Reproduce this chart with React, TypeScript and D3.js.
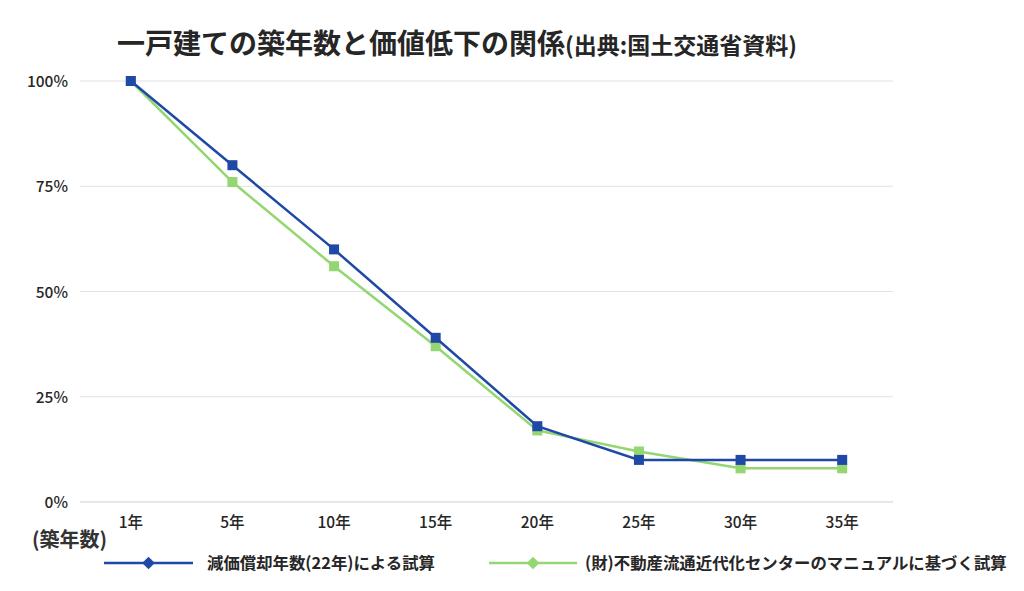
import React, { useEffect, useRef } from "react";
import * as d3 from "d3";

const categories = ["1年", "5年", "10年", "15年", "20年", "25年", "30年", "35年"];
const seriesA = [100, 80, 60, 39, 18, 10, 10, 10];
const seriesB = [100, 76, 56, 37, 17, 12, 8, 8];
const yTicks = [0, 25, 50, 75, 100];
const seriesNames = ["減価償却年数(22年)による試算", "(財)不動産流通近代化センターのマニュアルに基づく試算"];
const titleMain = "一戸建ての築年数と価値低下の関係";
const titleSub = "(出典:国土交通省資料)";

const W = 1024, H = 591;
const FONT = "'Noto Sans CJK JP', 'Noto Sans', sans-serif";
const BLUE = "#1f49a6";
const GREEN = "#94d672";

export default function App() {
  const ref = useRef<SVGSVGElement>(null);
  useEffect(() => {
    const svg = d3.select(ref.current);
    svg.selectAll("*").remove();
    const x = d3.scaleBand<string>().domain(categories).range([80, 893]);
    const y = d3.scaleLinear().domain([0, 100]).range([502, 81]);
    const cx = (c: string) => (x(c) as number) + x.bandwidth() / 2;

    // title
    const t = svg.append("text").attr("x", 117).attr("y", 54).attr("font-family", FONT).attr("font-weight", 700).attr("fill", "#262626");
    t.append("tspan").attr("font-size", 28).text(titleMain);
    t.append("tspan").attr("font-size", 23).text(titleSub);

    // grid
    svg.append("g").selectAll("line").data(yTicks).join("line")
      .attr("x1", 80).attr("x2", 893)
      .attr("y1", d => y(d)).attr("y2", d => y(d))
      .attr("stroke", d => (d === 0 ? "#cfcfcf" : "#e2e2e2")).attr("stroke-width", 1);
    svg.append("g").selectAll("text").data(yTicks).join("text")
      .attr("x", 68).attr("y", d => y(d) + 6).attr("text-anchor", "end")
      .attr("font-family", FONT).attr("font-size", 15.5).attr("font-weight", 500).attr("fill", "#262626")
      .text(d => d + "%");

    // x labels
    svg.append("g").selectAll("text").data(categories).join("text")
      .attr("x", d => cx(d)).attr("y", 528).attr("text-anchor", "middle")
      .attr("font-family", FONT).attr("font-size", 15.5).attr("font-weight", 500).attr("fill", "#262626")
      .text(d => d);
    svg.append("text").attr("x", 32).attr("y", 547).attr("font-family", FONT).attr("font-size", 20)
      .attr("font-weight", 700).attr("fill", "#333").text("(築年数)");

    const line = d3.line<number>().x((_, i) => cx(categories[i])).y(d => y(d));
    const drawSeries = (data: number[], color: string) => {
      svg.append("path").datum(data).attr("d", line).attr("fill", "none").attr("stroke", color).attr("stroke-width", 2.5);
      svg.append("g").selectAll("rect").data(data).join("rect")
        .attr("x", (_, i) => cx(categories[i]) - 5).attr("y", d => y(d) - 5)
        .attr("width", 10).attr("height", 10).attr("fill", color);
    };
    drawSeries(seriesB, GREEN);
    drawSeries(seriesA, BLUE);

    // legend
    const legend = [
      { name: seriesNames[0], color: BLUE, x1: 104, x2: 193, tx: 207 },
      { name: seriesNames[1], color: GREEN, x1: 489, x2: 577, tx: 585 },
    ];
    const ly = 563;
    legend.forEach(l => {
      svg.append("line").attr("x1", l.x1).attr("x2", l.x2).attr("y1", ly).attr("y2", ly).attr("stroke", l.color).attr("stroke-width", 2.5);
      const m = (l.x1 + l.x2) / 2;
      svg.append("rect").attr("x", -4.5).attr("y", -4.5).attr("width", 9).attr("height", 9)
        .attr("transform", `translate(${m},${ly}) rotate(45)`).attr("fill", l.color);
      svg.append("text").attr("x", l.tx).attr("y", ly + 6).attr("font-family", FONT).attr("font-size", 16.4)
        .attr("font-weight", 700).attr("fill", "#262626").text(l.name);
    });
  }, []);
  return (
    <svg ref={ref} width={W} height={H} style={{ position: "absolute", left: 0, top: 0, background: "#fff" }} />
  );
}
